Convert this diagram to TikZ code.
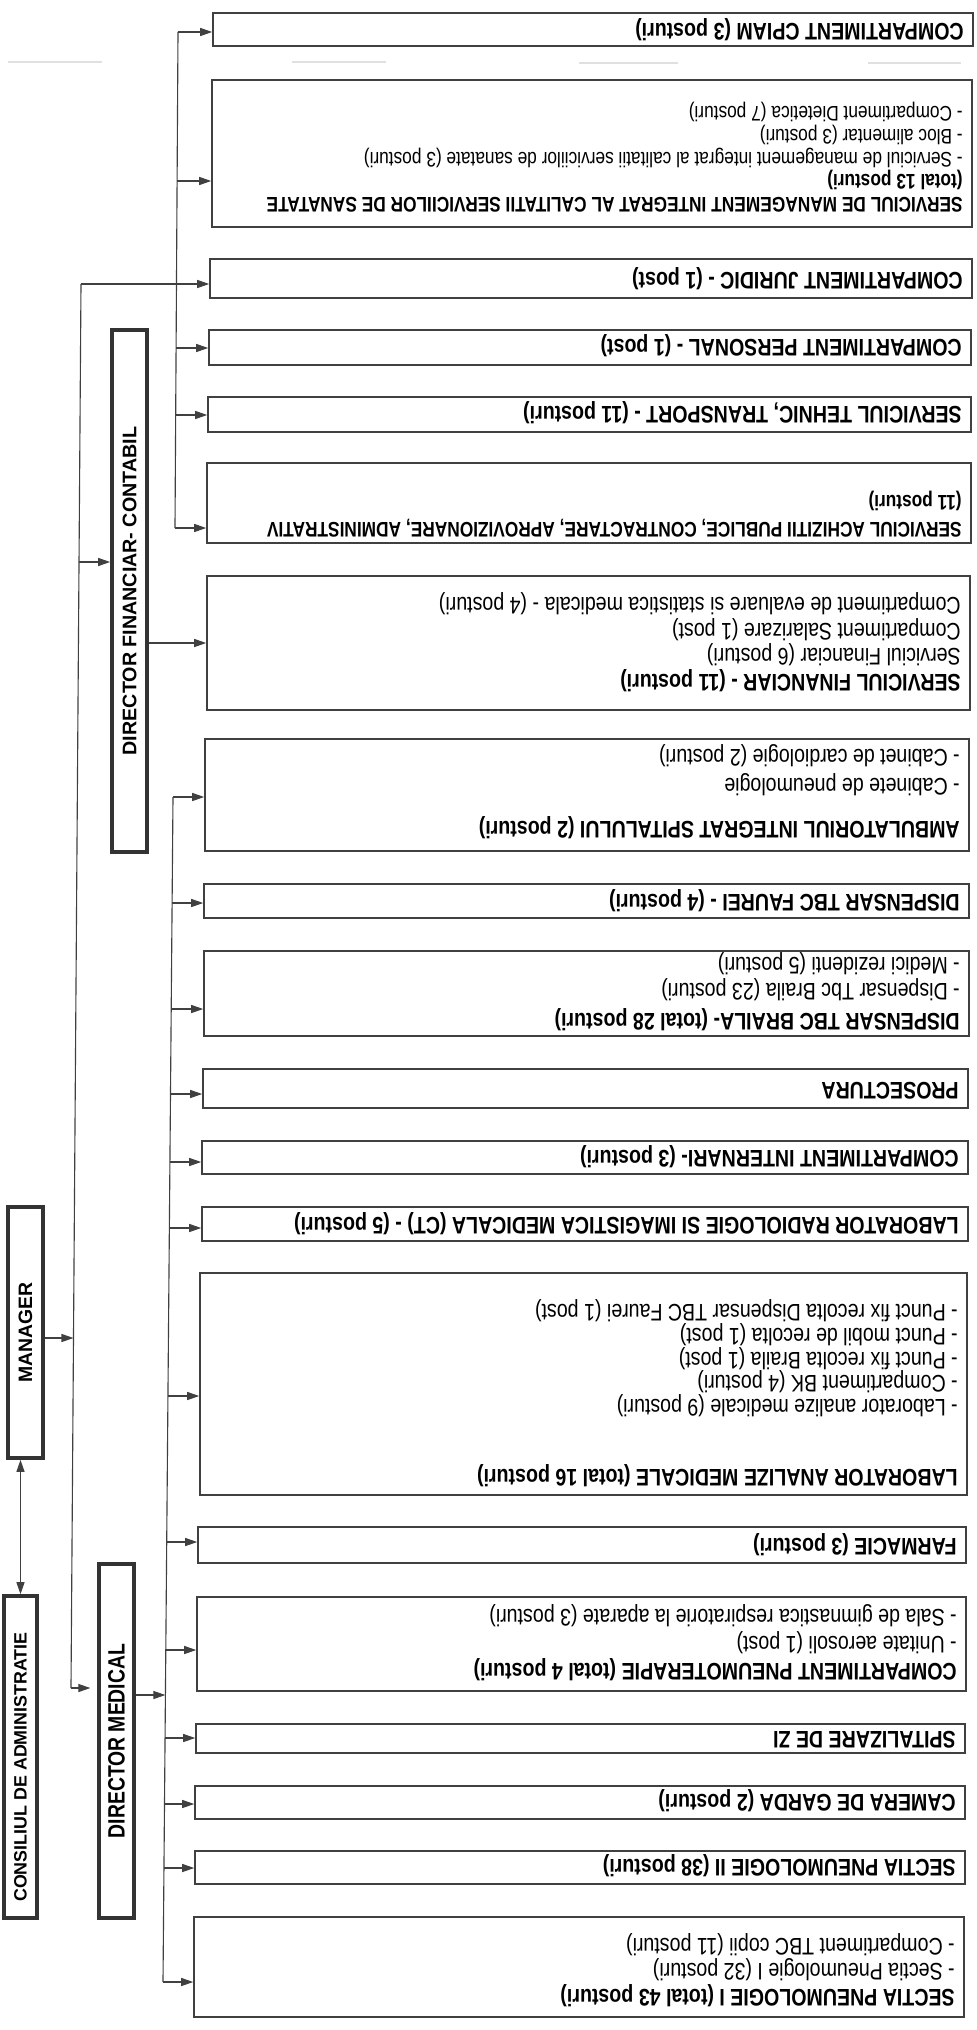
\documentclass[tikz,border=0pt]{standalone}
\usepackage{fontspec}
\setmainfont{Liberation Sans}
\newfontfamily\narrowfont{Liberation Sans}[FakeStretch=0.82]
\usetikzlibrary{arrows.meta}
\usetikzlibrary{fit}

\begin{document}
\begin{tikzpicture}[x=0.025cm,y=-0.025cm]
\tikzset{>={Triangle[width=2mm,length=3mm]}}
\tikzstyle{unit}=[draw=black!75,line width=1.1pt,inner sep=0pt]
\tikzstyle{chief}=[draw=black!80,line width=2.6pt,inner sep=0pt]
\tikzstyle{link}=[draw=black!75,line width=0.8pt]
\tikzstyle{info}=[rotate=180,anchor=north west,inner sep=0pt,align=left,font=\narrowfont\fontsize{17}{18.1}\selectfont]
\tikzstyle{small}=[font=\narrowfont\fontsize{15}{16.3}\selectfont]
\tikzstyle{headlabel}=[rotate=90,inner sep=0pt]

\useasboundingbox (0,0) rectangle (976,2030);

% faint scan marks
\draw[black!12,line width=1pt] (8,62) -- (102,62);
\draw[black!12,line width=1pt] (292,62) -- (386,62);
\draw[black!12,line width=1pt] (579,63) -- (678,63);
\draw[black!12,line width=1pt] (868,63) -- (961,63);

% left column
\node[chief,fit={(4,1596) (37,1918)}](cons){};
\node[headlabel,font=\fontsize{12.7}{14}\selectfont\bfseries](constxt) at ([yshift=-0.25cm]cons.center){CONSILIUL DE ADMINISTRATIE};
\node[chief,fit={(8,1207) (43,1458)}](man){};
\node[headlabel,font=\fontsize{13.8}{15}\selectfont\bfseries](mantxt) at (man.center){MANAGER};
\node[chief,fit={(99,1564) (134,1918)}](dm){};
\node[headlabel,font=\narrowfont\fontsize{16.8}{18}\selectfont\bfseries](dmtxt) at (dm.center){DIRECTOR MEDICAL};
\node[chief,fit={(112,330) (147,852)}](dfc){};
\node[headlabel,font=\fontsize{14}{16}\selectfont\bfseries](dfctxt) at (dfc.center){DIRECTOR FINANCIAR- CONTABIL};

% financial units
\node[unit,fit={(213,13) (973,46)}](cpiam){};
\node[info](cpiamtxt) at (964,40.8){\textbf{COMPARTIMENT CPIAM (3 posturi)}};
\node[unit,fit={(212,80) (972,227)}](mgmt){};
\node[info,small](mgmttxt) at (963,212.9){\textbf{SERVICIUL DE MANAGEMENT INTEGRAT AL CALITATII SERVICIILOR DE SANATATE}\\\textbf{(total 13 posturi)}\\- Serviciul de management integrat al calitatii serviciilor de sanatate (3 posturi)\\- Bloc alimentar (3 posturi)\\- Compartiment Dietetica (7 posturi)};
\node[unit,fit={(210,259) (972,298)}](jur){};
\node[info](jurtxt) at (963,289.8){\textbf{COMPARTIMENT JURIDIC - (1 post)}};
\node[unit,fit={(209,330) (971,365)}](pers){};
\node[info](perstxt) at (962,356.8){\textbf{COMPARTIMENT PERSONAL - (1 post)}};
\node[unit,fit={(208,397) (971,432)}](teh){};
\node[info](tehtxt) at (962,423.8){\textbf{SERVICIUL TEHNIC, TRANSPORT - (11 posturi)}};
\node[unit,fit={(207,463) (971,543)}](ach){};
\node[info,small](achtxt) at (962,537.9){\textbf{SERVICIUL ACHIZITII PUBLICE, CONTRACTARE, APROVIZIONARE, ADMINISTRATIV}\\[3pt]\textbf{(11 posturi)}};
\node[unit,fit={(207,576) (970,710)}](fin){};
\node[info](fintxt) at (961,691.8){\textbf{SERVICIUL FINANCIAR - (11 posturi)}\\Serviciul Financiar (6 posturi)\\Compartiment Salarizare (1 post)\\Compartiment de evaluare si statistica medicala - (4 posturi)};

% medical units
\node[unit,fit={(205,739) (969,851)}](amb){};
\node[info](ambtxt) at (960,838.8){\textbf{AMBULATORIUL INTEGRAT SPITALULUI (2 posturi)}\\[12.4pt]- Cabinete de pneumologie\\[2.5pt]- Cabinet de cardiologie (2 posturi)};
\node[unit,fit={(204,884) (969,918)}](faurei){};
\node[info](faureitxt) at (960,911.8){\textbf{DISPENSAR TBC FAUREI - (4 posturi)}};
\node[unit,fit={(204,951) (969,1036)}](braila){};
\node[info](brailatxt) at (960,1030.8){\textbf{DISPENSAR TBC BRAILA- (total 28 posturi)}\\[3.2pt]- Dispensar Tbc Braila (23 posturi)\\- Medici rezidenti (5 posturi)};
\node[unit,fit={(203,1069) (968,1108)}](pros){};
\node[info](prostxt) at (959,1099.8){\textbf{PROSECTURA}};
\node[unit,fit={(202,1141) (968,1174)}](intern){};
\node[info](interntxt) at (959,1167.8){\textbf{COMPARTIMENT INTERNARI- (3 posturi)}};
\node[unit,fit={(202,1207) (968,1241)}](rad){};
\node[info](radtxt) at (959,1234.8){\textbf{LABORATOR RADIOLOGIE SI IMAGISTICA MEDICALA (CT) - (5 posturi)}};
\node[unit,fit={(200,1273) (967,1495)}](lab){};
\node[info](labtxt) at (958,1486.8){\textbf{LABORATOR ANALIZE MEDICALE (total 16 posturi)}\\[31.5pt]- Laborator analize medicale (9 posturi)\\[-1.3pt]- Compartiment BK (4 posturi)\\[-1.3pt]- Punct fix recolta Braila (1 post)\\[-1.3pt]- Punct mobil de recolta (1 post)\\[-1.3pt]- Punct fix recolta Dispensar TBC Faurei (1 post)};
\node[unit,fit={(198,1527) (966,1563)}](farm){};
\node[info](farmtxt) at (957,1555.8){\textbf{FARMACIE (3 posturi)}};
\node[unit,fit={(197,1597) (966,1691)}](pneu){};
\node[info](pneutxt) at (957,1680.8){\textbf{COMPARTIMENT PNEUMOTERAPIE (total 4 posturi)}\\[1pt]- Unitate aerosoli (1 post)\\[1pt]- Sala de gimnastica respiratorie la aparate (3 posturi)};
\node[unit,fit={(196,1724) (965,1753)}](spit){};
\node[info](spittxt) at (956,1748.8){\textbf{SPITALIZARE DE ZI}};
\node[unit,fit={(195,1786) (965,1819)}](camera){};
\node[info](cameratxt) at (956,1811.8){\textbf{CAMERA DE GARDA (2 posturi)}};
\node[unit,fit={(195,1851) (965,1884)}](sec2){};
\node[info](sec2txt) at (956,1876.8){\textbf{SECTIA PNEUMOLOGIE II (38 posturi)}};
\node[unit,fit={(194,1917) (964,2017)}](sec1){};
\node[info](sec1txt) at (955,2006.8){\textbf{SECTIA PNEUMOLOGIE I (total 43 posturi)}\\- Sectia Pneumologie I (32 posturi)\\- Compartiment TBC copii (11 posturi)};

% manager line
\coordinate (jtop) at (81,284);
\coordinate (jbot) at (71,1688);
\coordinate (jman) at (73.5,1338);
\coordinate (jdfc) at (79,562);
\draw[link] (jtop) -- (jbot);
\draw[link,->] (jtop) -- (jur.west |- jtop);
\draw[link,->,shorten >=0.17cm] (jbot) -- (dm.west |- jbot);
\draw[link,->] (man.east |- jman) -- (jman);
\draw[link,->] (jdfc) -- (dfc.west |- jdfc);
\draw[link,<->] (cons.north) -- (cons.north |- man.south);

% financial trunk
\coordinate (ftop) at (178,32);
\coordinate (fbot) at (175,528);
\coordinate (jmgmt) at (177,181);
\coordinate (jpers) at (176,348);
\coordinate (jteh) at (175.6,415);
\draw[link] (ftop) -- (fbot);
\draw[link,->] (ftop) -- (cpiam.west |- ftop);
\draw[link,->] (jmgmt) -- (mgmt.west |- jmgmt);
\draw[link,->] (jpers) -- (pers.west |- jpers);
\draw[link,->] (jteh) -- (teh.west |- jteh);
\draw[link,->] (fbot) -- (ach.west |- fbot);
\draw[link,->] (dfc.east |- fin.west) -- (fin.west);

% medical trunk
\coordinate (mtop) at (173,797);
\coordinate (mbot) at (163,1982);
\coordinate (jfaurei) at (172.1,903);
\coordinate (jbraila) at (171.2,1009);
\coordinate (jpros) at (170.5,1094);
\coordinate (jintern) at (169.9,1162);
\coordinate (jrad) at (169.4,1228);
\coordinate (jlab) at (167.9,1396);
\coordinate (jfarm) at (166.7,1542);
\coordinate (jpneu) at (165.8,1650);
\coordinate (jdm) at (165.4,1695);
\coordinate (jspit) at (165.1,1738);
\coordinate (jcamera) at (164.5,1804);
\coordinate (jsec2) at (164,1868);
\draw[link] (mtop) -- (mbot);
\draw[link,->] (mtop) -- (amb.west |- mtop);
\draw[link,->] (jfaurei) -- (faurei.west |- jfaurei);
\draw[link,->] (jbraila) -- (braila.west |- jbraila);
\draw[link,->] (jpros) -- (pros.west |- jpros);
\draw[link,->] (jintern) -- (intern.west |- jintern);
\draw[link,->] (jrad) -- (rad.west |- jrad);
\draw[link,->] (jlab) -- (lab.west |- jlab);
\draw[link,->] (jfarm) -- (farm.west |- jfarm);
\draw[link,->] (jpneu) -- (pneu.west |- jpneu);
\draw[link,->] (dm.east |- jdm) -- (jdm);
\draw[link,->] (jspit) -- (spit.west |- jspit);
\draw[link,->] (jcamera) -- (camera.west |- jcamera);
\draw[link,->] (jsec2) -- (sec2.west |- jsec2);
\draw[link,->] (mbot) -- (sec1.west |- mbot);
\end{tikzpicture}
\end{document}
